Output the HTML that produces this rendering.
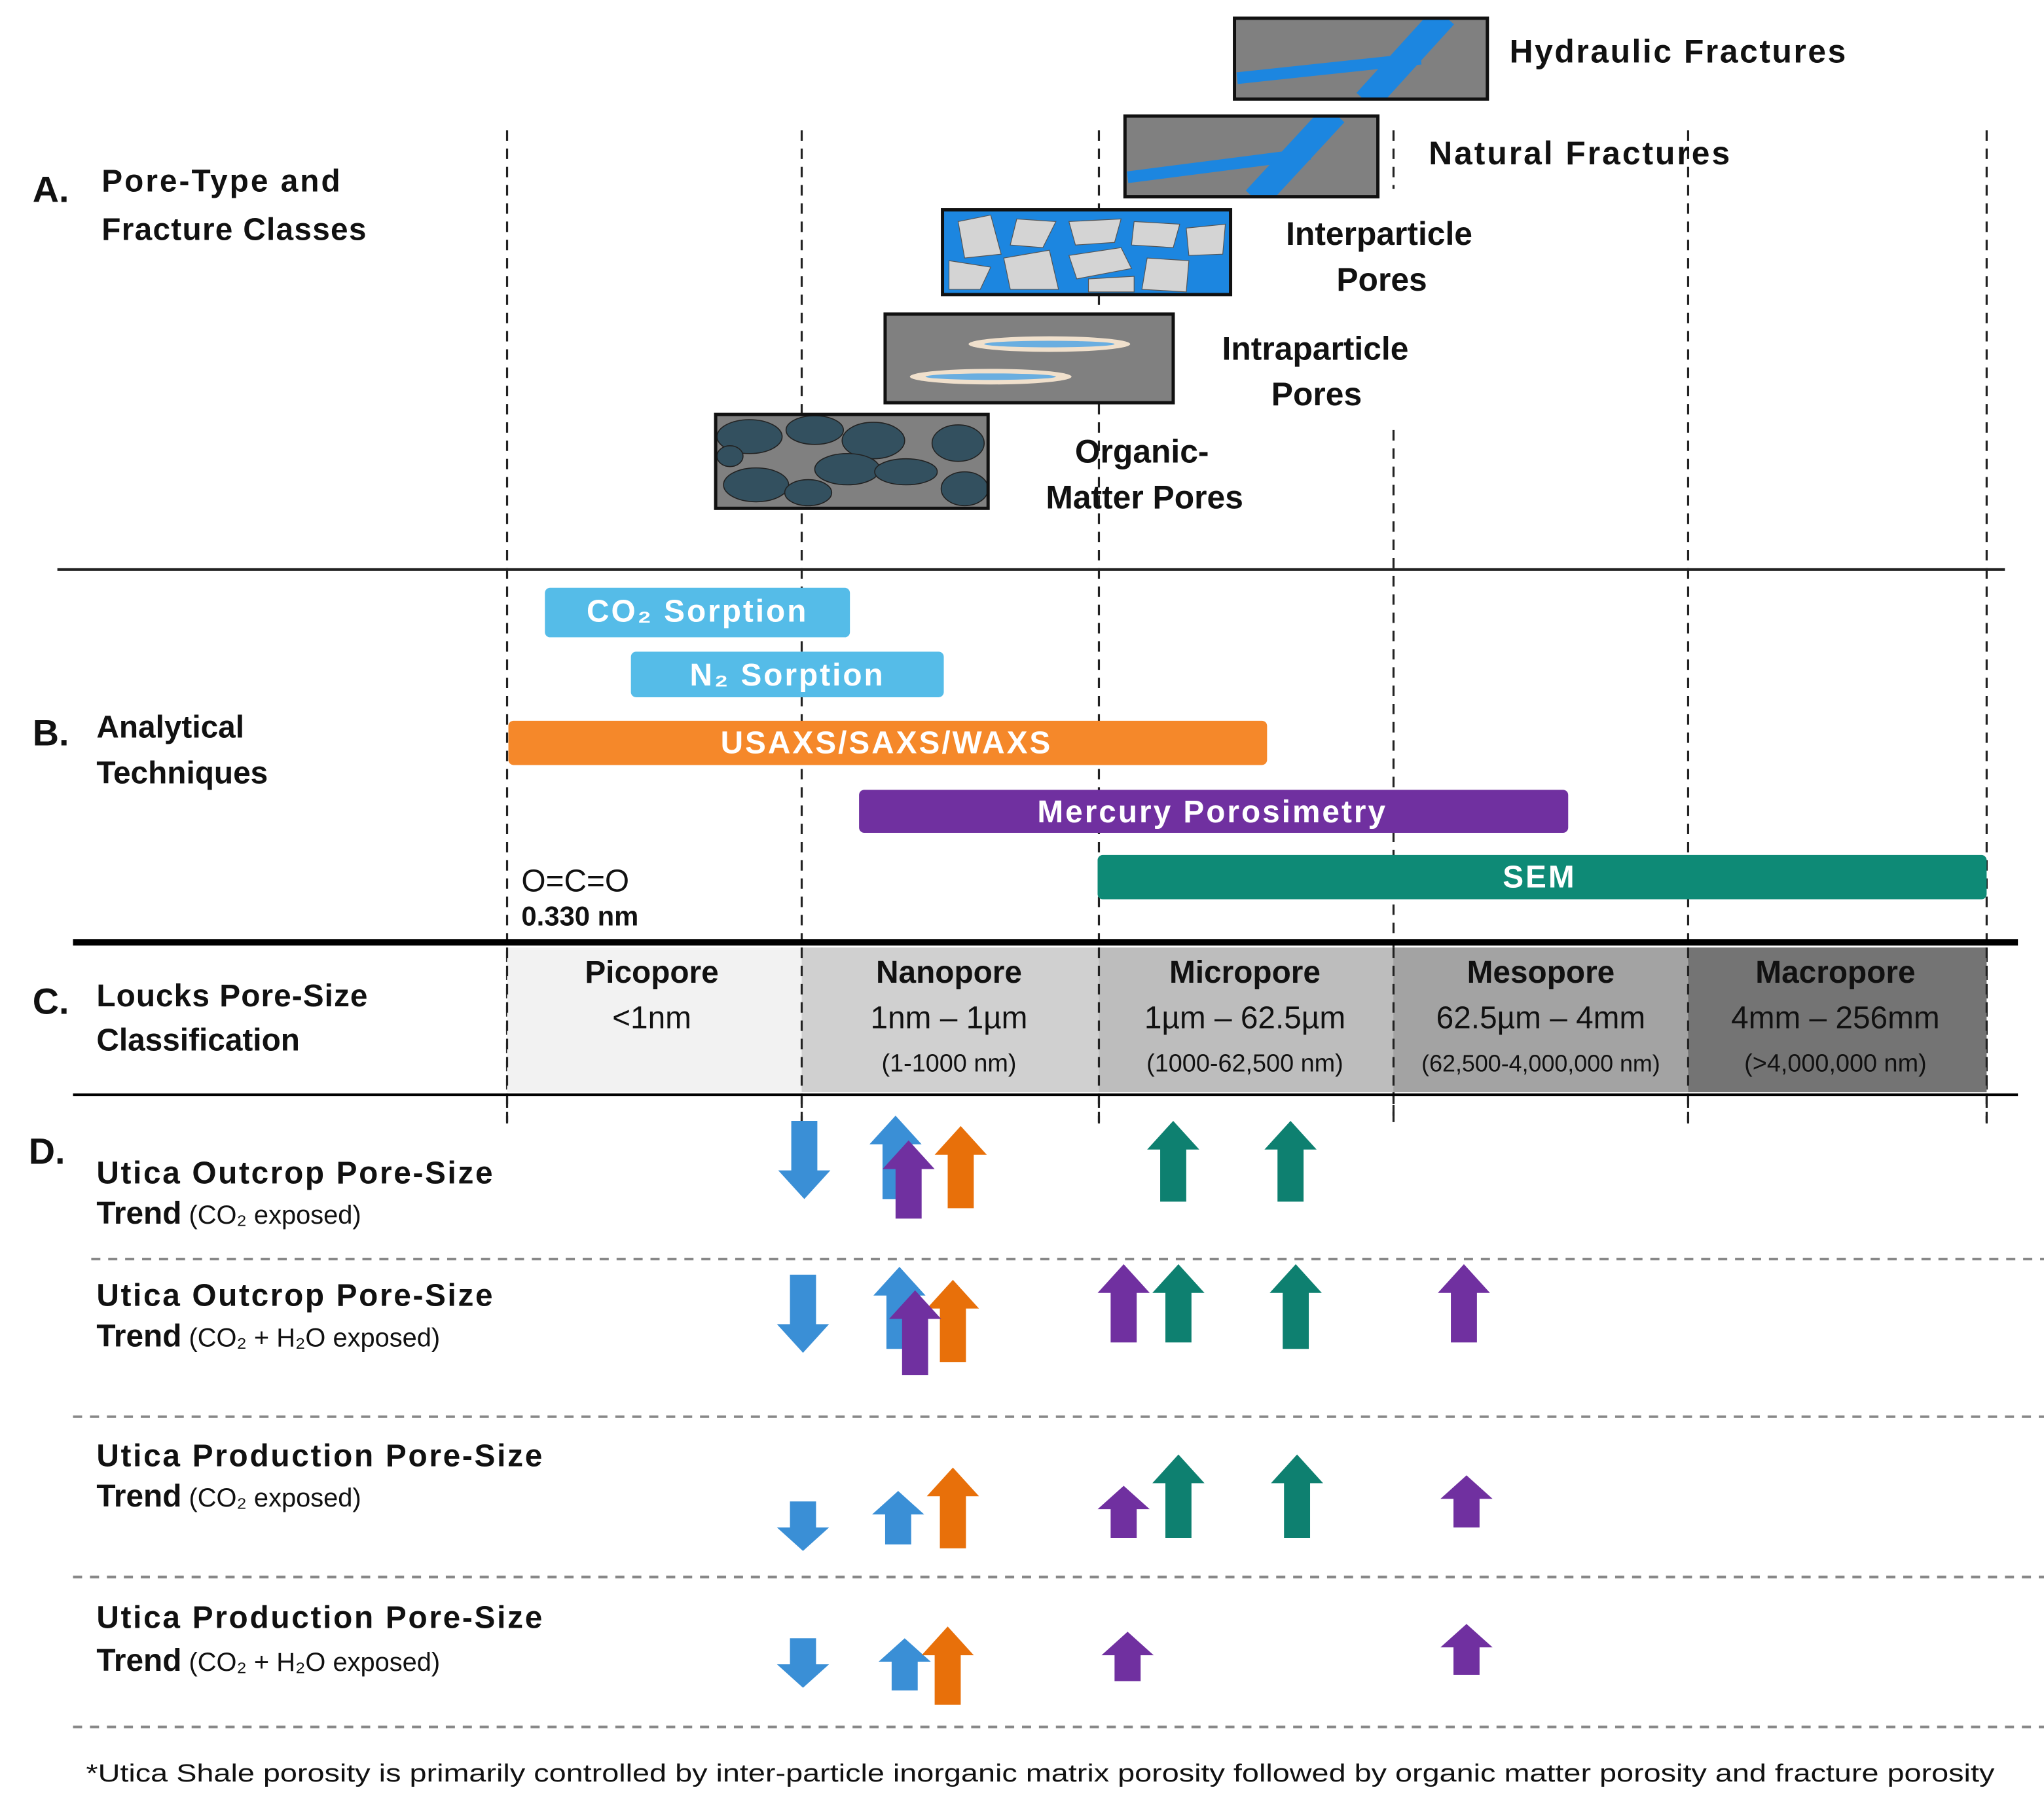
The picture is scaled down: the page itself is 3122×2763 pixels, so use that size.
<!DOCTYPE html>
<html><head><meta charset="utf-8"><style>
html,body{margin:0;padding:0;background:#fff}
svg{display:block}
text{font-family:"Liberation Sans",sans-serif}
.b{font-weight:bold}
</style></head><body>
<svg width="3122" height="2763" viewBox="0 0 1568 1388" preserveAspectRatio="none" xmlns="http://www.w3.org/2000/svg">
<defs>
<clipPath id="c1"><rect x="947" y="14" width="194" height="62"/></clipPath>
<clipPath id="c2"><rect x="863" y="89" width="194" height="62"/></clipPath>
<clipPath id="c3"><rect x="723" y="161" width="221" height="65"/></clipPath>
<clipPath id="c5"><rect x="549" y="318" width="209" height="72"/></clipPath>
</defs>
<g stroke="#222" stroke-width="1.6" stroke-dasharray="8,6" fill="none">
<line x1="389" y1="100" x2="389" y2="862"/>
<line x1="615" y1="100" x2="615" y2="862"/>
<line x1="843" y1="100" x2="843" y2="862"/>
<line x1="1069" y1="100" x2="1069" y2="145"/>
<line x1="1069" y1="330" x2="1069" y2="862"/>
<line x1="1295" y1="100" x2="1295" y2="862"/>
<line x1="1524" y1="100" x2="1524" y2="862"/>
</g>
<rect x="389" y="727" width="226" height="111" fill="#f2f2f2"/>
<rect x="615" y="727" width="228" height="111" fill="#d0d0d0"/>
<rect x="843" y="727" width="226" height="111" fill="#bdbdbd"/>
<rect x="1069" y="727" width="226" height="111" fill="#a3a3a3"/>
<rect x="1295" y="727" width="229" height="111" fill="#747474"/>
<g stroke="#222" stroke-width="1.6" stroke-dasharray="8,6">
<line x1="615" y1="727" x2="615" y2="862"/><line x1="843" y1="727" x2="843" y2="862"/><line x1="1069" y1="727" x2="1069" y2="862"/><line x1="1295" y1="727" x2="1295" y2="862"/><line x1="1524" y1="727" x2="1524" y2="862"/><line x1="389" y1="727" x2="389" y2="862"/>
</g>
<line x1="44" y1="437" x2="1538" y2="437" stroke="#222" stroke-width="2"/>
<line x1="56" y1="723" x2="1548" y2="723" stroke="#000" stroke-width="5"/>
<line x1="56" y1="840" x2="1548" y2="840" stroke="#000" stroke-width="2"/>
<g stroke="#888" stroke-width="2" stroke-dasharray="7,6">
<line x1="70" y1="966" x2="1568" y2="966"/>
<line x1="56" y1="1087" x2="1568" y2="1087"/>
<line x1="56" y1="1210" x2="1568" y2="1210"/>
<line x1="56" y1="1325" x2="1568" y2="1325"/>
</g>

<rect x="947" y="14" width="194" height="62" fill="#808080"/>
<g clip-path="url(#c1)">
<polyline points="949,60 1090,45" stroke="#1c86e0" stroke-width="9" fill="none"/>
<line x1="1048" y1="78" x2="1108" y2="12" stroke="#1c86e0" stroke-width="20"/>
</g>
<rect x="947" y="14" width="194" height="62" fill="none" stroke="#111" stroke-width="2.5"/>
<rect x="863" y="89" width="194" height="62" fill="#808080"/>
<g clip-path="url(#c2)">
<polyline points="865,136 1005,118" stroke="#1c86e0" stroke-width="9" fill="none"/>
<line x1="963" y1="153" x2="1024" y2="87" stroke="#1c86e0" stroke-width="20"/>
</g>
<rect x="863" y="89" width="194" height="62" fill="none" stroke="#111" stroke-width="2.5"/>
<rect x="723" y="161" width="221" height="65" fill="#1c86e0"/>
<g fill="#d4d4d4" stroke="#555" stroke-width="0.6" clip-path="url(#c3)">
<polygon points="735,170 760,165 768,195 740,198"/><polygon points="780,168 810,170 800,190 775,188"/>
<polygon points="820,170 860,168 855,186 825,188"/><polygon points="870,170 905,172 900,190 868,188"/>
<polygon points="910,175 940,172 938,195 912,196"/><polygon points="728,200 760,205 752,222 728,222"/>
<polygon points="770,198 805,192 812,222 775,222"/><polygon points="820,196 860,190 868,206 826,214"/>
<polygon points="880,198 912,200 910,224 876,222"/><polygon points="835,214 870,212 870,224 835,224"/>
</g>
<rect x="723" y="161" width="221" height="65" fill="none" stroke="#111" stroke-width="2.5"/>
<rect x="679" y="241" width="221" height="68" fill="#808080" stroke="#111" stroke-width="2.5"/>
<ellipse cx="805" cy="264" rx="62" ry="6" fill="#f0e0cc"/><ellipse cx="805" cy="264" rx="50" ry="2.5" fill="#6aaee0"/>
<ellipse cx="760" cy="289" rx="62" ry="6" fill="#f0e0cc"/><ellipse cx="760" cy="289" rx="50" ry="2.5" fill="#6aaee0"/>
<rect x="549" y="318" width="209" height="72" fill="#808080"/>
<g fill="#33505f" stroke="#222" stroke-width="0.8" clip-path="url(#c5)">
<ellipse cx="575" cy="335" rx="25" ry="13"/><ellipse cx="625" cy="330" rx="22" ry="11"/><ellipse cx="670" cy="338" rx="24" ry="14"/>
<ellipse cx="735" cy="340" rx="20" ry="14"/><ellipse cx="650" cy="360" rx="25" ry="12"/><ellipse cx="695" cy="362" rx="24" ry="10"/>
<ellipse cx="580" cy="372" rx="25" ry="13"/><ellipse cx="620" cy="378" rx="18" ry="10"/><ellipse cx="740" cy="375" rx="18" ry="13"/>
<ellipse cx="560" cy="350" rx="10" ry="8"/>
</g>
<rect x="549" y="318" width="209" height="72" fill="none" stroke="#111" stroke-width="2.5"/>

<g class="b" fill="#111">
<text x="25" y="155" font-size="28" class="b">A.</text>
<text x="78" y="147" font-size="24" class="b" textLength="183">Pore-Type and</text>
<text x="78" y="184" font-size="24" class="b" textLength="203">Fracture Classes</text>
<text x="1158" y="48" font-size="25" class="b" textLength="258">Hydraulic  Fractures</text>
<text x="1096" y="126" font-size="25" class="b" textLength="231">Natural  Fractures</text>
<text x="1058" y="188" font-size="25" class="b" text-anchor="middle">Interparticle</text>
<text x="1060" y="223" font-size="25" class="b" text-anchor="middle">Pores</text>
<text x="1009" y="276" font-size="25" class="b" text-anchor="middle">Intraparticle</text>
<text x="1010" y="311" font-size="25" class="b" text-anchor="middle">Pores</text>
<text x="876" y="355" font-size="25" class="b" text-anchor="middle">Organic-</text>
<text x="878" y="390" font-size="25" class="b" text-anchor="middle">Matter Pores</text>
</g>

<rect x="418" y="451" width="234" height="38" rx="4" fill="#55bce8"/>
<rect x="484" y="500" width="240" height="35" rx="4" fill="#55bce8"/>
<rect x="390" y="553" width="582" height="34" rx="4" fill="#f5882a"/>
<rect x="659" y="606" width="544" height="33" rx="4" fill="#7030a0"/>
<rect x="842" y="656" width="682" height="34" rx="4" fill="#0e8a76"/>
<g fill="#fff" class="b" font-size="24" text-anchor="middle" letter-spacing="1.5">
<text x="535" y="477" class="b">CO₂ Sorption</text>
<text x="604" y="526" class="b">N₂ Sorption</text>
<text x="680" y="578" class="b">USAXS/SAXS/WAXS</text>
<text x="930" y="631" class="b">Mercury Porosimetry</text>
<text x="1181" y="681" class="b">SEM</text>
</g>
<g fill="#111">
<text x="25" y="572" font-size="28" class="b">B.</text>
<text x="74" y="566" font-size="24" class="b">Analytical</text>
<text x="74" y="601" font-size="24" class="b">Techniques</text>
<text x="400" y="684" font-size="24">O=C=O</text>
<text x="400" y="710" font-size="21" class="b">0.330 nm</text>
<text x="25" y="778" font-size="28" class="b">C.</text>
<text x="74" y="772" font-size="24" class="b" textLength="208">Loucks Pore-Size</text>
<text x="74" y="806" font-size="24" class="b">Classification</text>
</g>
<g fill="#111" text-anchor="middle">
<text x="500" y="754" font-size="24" class="b">Picopore</text>
<text x="500" y="789" font-size="24">&lt;1nm</text>
<text x="728" y="754" font-size="24" class="b">Nanopore</text>
<text x="728" y="789" font-size="24">1nm – 1µm</text>
<text x="728" y="822" font-size="19">(1-1000 nm)</text>
<text x="955" y="754" font-size="24" class="b">Micropore</text>
<text x="955" y="789" font-size="24">1µm – 62.5µm</text>
<text x="955" y="822" font-size="19">(1000-62,500 nm)</text>
<text x="1182" y="754" font-size="24" class="b">Mesopore</text>
<text x="1182" y="789" font-size="24">62.5µm – 4mm</text>
<text x="1182" y="822" font-size="18">(62,500-4,000,000 nm)</text>
<text x="1408" y="754" font-size="24" class="b">Macropore</text>
<text x="1408" y="789" font-size="24">4mm – 256mm</text>
<text x="1408" y="822" font-size="19">(&gt;4,000,000 nm)</text>
</g>

<g fill="#111">
<text x="22" y="893" font-size="28" class="b">D.</text>
<text x="74" y="908" font-size="24" class="b" textLength="304">Utica Outcrop Pore-Size</text>
<text x="74" y="939" font-size="24"><tspan class="b">Trend</tspan><tspan font-size="20"> (CO₂ exposed)</tspan></text>
<text x="74" y="1002" font-size="24" class="b" textLength="304">Utica Outcrop Pore-Size</text>
<text x="74" y="1033" font-size="24"><tspan class="b">Trend</tspan><tspan font-size="20"> (CO₂ + H₂O exposed)</tspan></text>
<text x="74" y="1125" font-size="24" class="b" textLength="342">Utica Production Pore-Size</text>
<text x="74" y="1156" font-size="24"><tspan class="b">Trend</tspan><tspan font-size="20"> (CO₂ exposed)</tspan></text>
<text x="74" y="1249" font-size="24" class="b" textLength="342">Utica Production Pore-Size</text>
<text x="74" y="1282" font-size="24"><tspan class="b">Trend</tspan><tspan font-size="20"> (CO₂ + H₂O exposed)</tspan></text>
<text x="66" y="1367" font-size="19" textLength="1464" lengthAdjust="spacingAndGlyphs">*Utica Shale porosity is primarily controlled by inter-particle inorganic matrix porosity followed by organic matter porosity and fracture porosity</text>
</g>

<g fill="#3a8fd6">
<polygon points="617,920 637,898 627,898 627,860 607,860 607,898 597,898"/>
<polygon points="687,856 707,878 697,878 697,920 677,920 677,878 667,878"/>
<polygon points="616,1038 636,1016 626,1016 626,978 606,978 606,1016 596,1016"/>
<polygon points="690,972 710,994 700,994 700,1035 680,1035 680,994 670,994"/>
<polygon points="616,1190 636,1172 626,1172 626,1152 606,1152 606,1172 596,1172"/>
<polygon points="689,1144 709,1162 699,1162 699,1185 679,1185 679,1162 669,1162"/>
<polygon points="616,1295 636,1277 626,1277 626,1257 606,1257 606,1277 596,1277"/>
<polygon points="694,1257 714,1275 704,1275 704,1297 684,1297 684,1275 674,1275"/>
</g>
<g fill="#e8700a">
<polygon points="737,864 757,886 747,886 747,927 727,927 727,886 717,886"/>
<polygon points="731,982 751,1004 741,1004 741,1045 721,1045 721,1004 711,1004"/>
<polygon points="731,1126 751,1148 741,1148 741,1188 721,1188 721,1148 711,1148"/>
<polygon points="727,1248 747,1270 737,1270 737,1308 717,1308 717,1270 707,1270"/>
</g>
<g fill="#7030a0">
<polygon points="697,875 717,897 707,897 707,935 687,935 687,897 677,897"/>
<polygon points="702,990 722,1012 712,1012 712,1055 692,1055 692,1012 682,1012"/>
<polygon points="862,970 882,992 872,992 872,1030 852,1030 852,992 842,992"/>
<polygon points="1123,970 1143,992 1133,992 1133,1030 1113,1030 1113,992 1103,992"/>
<polygon points="862,1140 882,1158 872,1158 872,1180 852,1180 852,1158 842,1158"/>
<polygon points="1125,1132 1145,1150 1135,1150 1135,1172 1115,1172 1115,1150 1105,1150"/>
<polygon points="865,1252 885,1270 875,1270 875,1290 855,1290 855,1270 845,1270"/>
<polygon points="1125,1246 1145,1264 1135,1264 1135,1285 1115,1285 1115,1264 1105,1264"/>
</g>
<g fill="#0e8070">
<polygon points="900,860 920,882 910,882 910,922 890,922 890,882 880,882"/>
<polygon points="990,860 1010,882 1000,882 1000,922 980,922 980,882 970,882"/>
<polygon points="904,970 924,992 914,992 914,1030 894,1030 894,992 884,992"/>
<polygon points="994,970 1014,992 1004,992 1004,1035 984,1035 984,992 974,992"/>
<polygon points="904,1116 924,1138 914,1138 914,1180 894,1180 894,1138 884,1138"/>
<polygon points="995,1116 1015,1138 1005,1138 1005,1180 985,1180 985,1138 975,1138"/>
</g>
</svg>
</body></html>
